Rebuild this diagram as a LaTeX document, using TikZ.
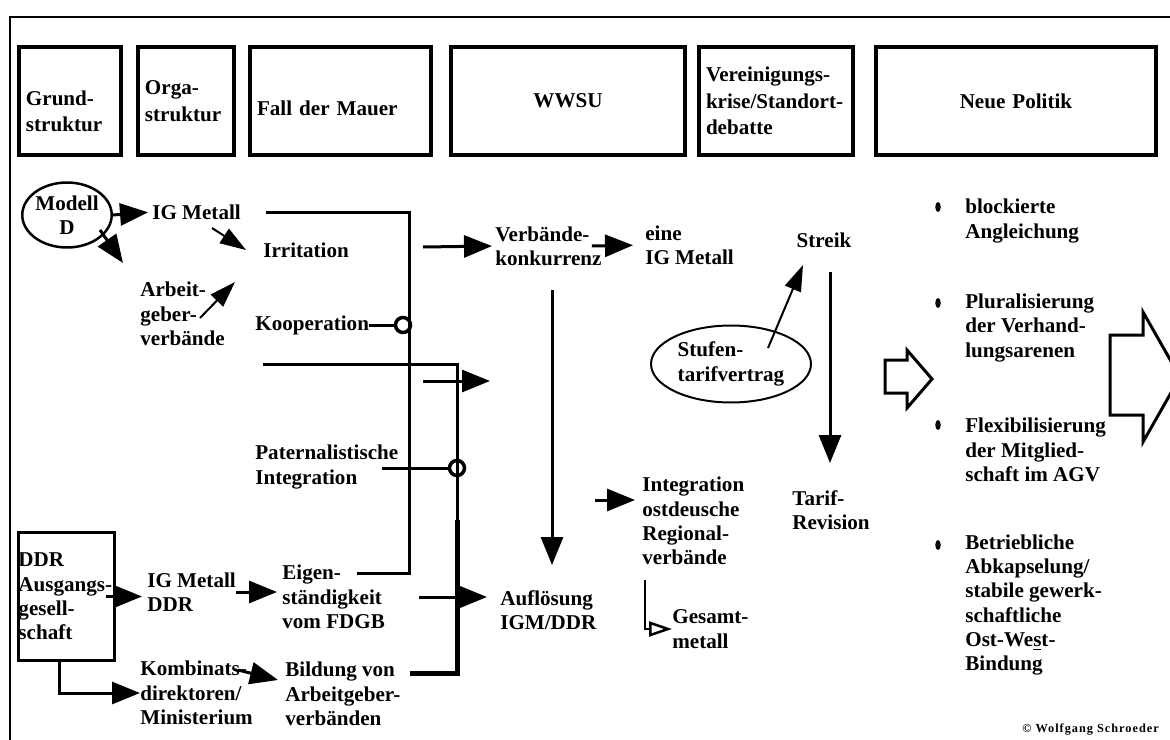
\documentclass[tikz,border=0pt]{standalone}
\usepackage{fontspec}
\setmainfont{Liberation Serif}
\usetikzlibrary{arrows.meta,shapes.geometric}

\begin{document}
\begin{tikzpicture}[x=0.02cm, y=-0.02cm,
    every node/.style={font=\bfseries\fontsize{12}{13.8}\selectfont},
    txt/.style={anchor=west, align=left, inner sep=0pt},
    hdr/.style={draw, line width=0.08cm, anchor=north west, minimum height=2.16cm,
      inner xsep=0.14cm, inner ysep=0pt, align=left, font=\bfseries\fontsize{12}{15}\selectfont},
    ln/.style={line width=0.06cm},
    thk/.style={line width=0.1cm},
    arr/.style={ln, -{Triangle[length=0.56cm, width=0.44cm]}},
    arrs/.style={line width=0.04cm, -{Triangle[length=0.52cm, width=0.34cm]}},
    ring/.style={draw, circle, line width=0.07cm, minimum size=0.3cm, inner sep=0pt},
    hollow/.style={line width=0.06cm, fill=white}]
    \useasboundingbox (0,0) rectangle (1170,740);
    \clip (0,0) rectangle (1170,740);
    \draw[line width=0.04cm] (10,760) -- (10,17) -- (1190,17);

    \node[hdr, text width=1.76cm, text height=0.7cm] (grund) at (17,45) {Grund-\\struktur};
    \node[hdr, text width=1.64cm] (orga) at (136,45) {Orga-\\struktur};
    \node[hdr, text width=3.34cm, text height=0.6cm] (fall) at (248,45) {Fall der Mauer};
    \node[hdr, text width=4.40cm, align=center] (wwsu) at (449,45) {WWSU};
    \node[hdr, text width=2.80cm] (verein) at (697,45) {Vereinigungs-\\krise/Standort-\\debatte};
    \node[hdr, text width=5.32cm, align=center] (neue) at (874,45) {Neue Politik};

    \node[draw, ellipse, line width=0.05cm, minimum width=1.72cm, minimum height=1.3cm,
      inner sep=0pt, align=center] (modell) at (67,215) {Modell\\D};
    \node[txt] (igm) at (152,212) {IG Metall};
    \node[txt] (irr) at (263,250) {Irritation};
    \node[txt] (agv) at (140,314) {Arbeit-\\geber-\\verbände};
    \node[txt] (koop) at (255,325) {Kooperation};
    \node[txt] (pat) at (255,467) {Paternalistische\\Integration};
    \node[draw, line width=0.06cm, anchor=north west, minimum width=1.92cm, minimum height=2.56cm,
      text width=1.92cm, inner sep=0pt, align=left] (ddr) at (17,531) {DDR\\Ausgangs-\\gesell-\\schaft};
    \node[txt] (igmddr) at (147,592) {IG Metall\\DDR};
    \node[txt] (eigen) at (282,597) {Eigen-\\ständigkeit\\vom FDGB};
    \node[txt] (kombi) at (140,693) {Kombinats-\\direktoren/\\Ministerium};
    \node[txt] (bild) at (285,694) {Bildung von\\Arbeitgeber-\\verbänden};

    \node[txt] (vk) at (495,246) {Verbände-\\konkurrenz};
    \node[txt] (eine) at (645,245) {eine\\IG Metall};
    \node[txt] (aufl) at (500,610) {Auflösung\\IGM/DDR};
    \node[txt] (integ) at (642,521) {Integration\\ostdeusche\\Regional-\\verbände};
    \node[txt] (gesamt) at (672,629) {Gesamt-\\metall};
    \node[draw, ellipse, line width=0.04cm, minimum width=3.2cm, minimum height=1.54cm,
      inner sep=0pt, align=left] (stufen) at (731,364) {Stufen-\\tarifvertrag};
    \node[inner sep=0pt] (streik) at (824,240) {Streik};
    \node[txt] (tarif) at (792,510) {Tarif-\\Revision};

    \foreach \y in {207,303,425,545}
        \fill (938,\y) ellipse (0.055cm and 0.1cm);
    \node[txt] (pkt1) at (965,221) {blockierte\\Angleichung};
    \node[txt] (pkt2) at (965,328) {Pluralisierung\\der Verhand-\\lungsarenen};
    \node[txt] (pkt3) at (965,450) {Flexibilisierung\\der Mitglied-\\schaft im AGV};
    \node[txt] (pkt4) at (965,605) {Betriebliche\\Abkapselung/\\stabile gewerk-\\schaftliche\\Ost-We\underline{s}t-\\Bindung};
    \node[txt, font=\bfseries\fontsize{7}{8}\selectfont\addfontfeature{LetterSpace=8}] (copy) at (1022,730) {\textcopyright\ Wolfgang Schroeder};

    \draw[hollow] (885,360) -- (907,360) -- (907,350) -- (932,379) -- (907,408) -- (907,393) -- (885,393) -- cycle;
    \draw[hollow] (1110,335) -- (1143,335) -- (1143,312) -- (1180,377) -- (1143,442) -- (1143,415) -- (1110,415) -- cycle;

    \coordinate (m1) at (100,230);
    \coordinate (m2) at (123,263);
    \coordinate (i1) at (212,228);
    \coordinate (i2) at (246,250);
    \coordinate (a1) at (200,318);
    \coordinate (a2) at (235,282);
    \coordinate (b2) at (409,573);
    \coordinate (b3) at (357,573);
    \coordinate (s1) at (263,364);
    \coordinate (s2) at (457,520);
    \coordinate (s3) at (410,673);
    \coordinate (pl) at (382,468);
    \coordinate (f1) at (423,381);
    \coordinate (f2) at (490,381);
    \coordinate (v1) at (423,247);
    \coordinate (d1) at (552,290);
    \coordinate (d2) at (552,565);
    \coordinate (e1) at (419,597);
    \coordinate (g0) at (595,500);
    \coordinate (g1) at (645,580);
    \coordinate (t1) at (768,348);
    \coordinate (t2) at (803,265);
    \coordinate (t3) at (830,272);
    \coordinate (t4) at (830,463);
    \coordinate (k1) at (238,670);
    \coordinate (k2) at (278,680);

    \draw[arr, shorten >=0.08cm] (modell.east) -- (igm.west);
    \draw[arr] (m1) -- (m2);
    \draw[arrs] (i1) -- (i2);
    \draw[arrs] (a1) -- (a2);
    \draw[ln] ([xshift=0.5cm]igm.east) -| (b2) -- (b3);
    \node[ring] (r1) at (403,325) {};
    \draw[ln] (koop.east) -- (r1);
    \draw[ln] (s1) -| (s2);
    \draw[thk] (s2) |- (s3);
    \node[ring] (r2) at (457,468) {};
    \draw[ln] (pl) -- (r2);
    \draw[arr] (f1) -- (f2);
    \draw[arr, shorten >=0.06cm] (v1) -- (vk.west);
    \draw[arr, shorten >=0.24cm] ([xshift=-0.2cm]vk.east) -- (eine.west);
    \draw[arr] (d1) -- (d2);
    \draw[arr, shorten >=0.26cm] (e1) -- (e1 -| aufl.west);
    \draw[arr, shorten >=0.14cm] (g0) -- (g0 -| integ.west);
    \draw[line width=0.05cm, -{Triangle[open, length=0.46cm, width=0.3cm]}] (g1) |- (gesamt.west);
    \draw[arrs] (t1) -- (t2);
    \draw[arr] (t3) -- (t4);
    \draw[arr, shorten >=0.1cm] ([xshift=-0.2cm]ddr.east) -- (ddr.east -| igmddr.west);
    \draw[arr, shorten >=0.1cm] (igmddr.east) -- (igmddr.east -| eigen.west);
    \draw[arr] ([xshift=-0.14cm]ddr.south) |- (kombi.west);
    \draw[arr] (k1) -- (k2);
\end{tikzpicture}
\end{document}
